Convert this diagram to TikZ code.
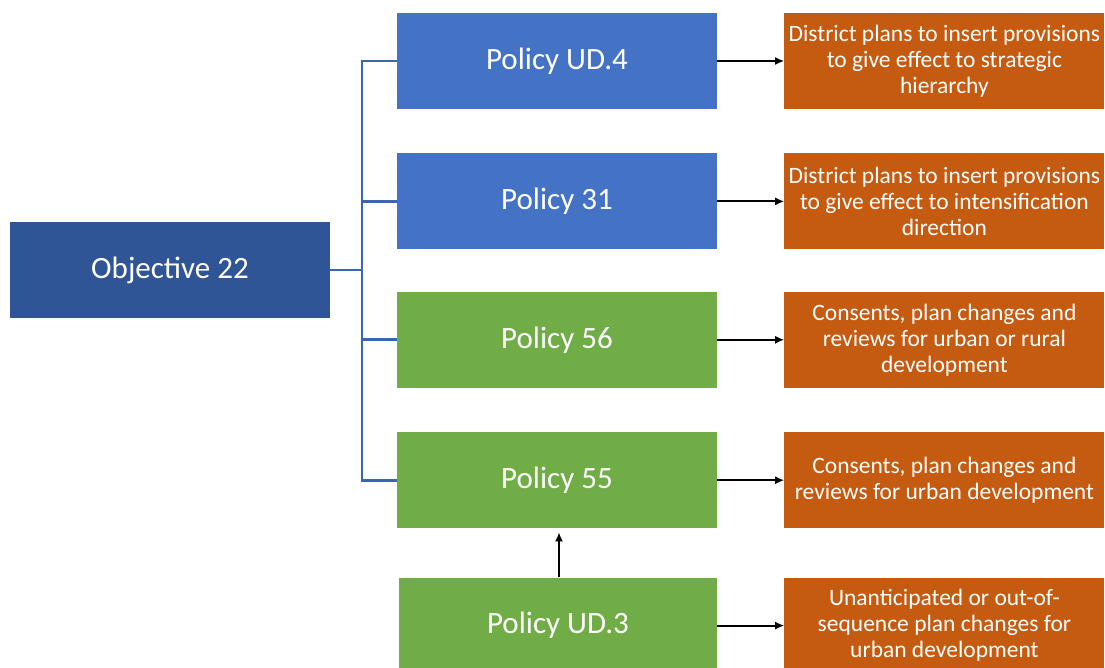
\documentclass[tikz,border=0pt]{standalone}
\usepackage{fontspec}
\setmainfont{Carlito}
\usetikzlibrary{arrows.meta,positioning}
\definecolor{objblue}{HTML}{2F5597}
\definecolor{polblue}{HTML}{4472C4}
\definecolor{polgreen}{HTML}{70AD47}
\definecolor{outorange}{HTML}{C55A11}
\definecolor{linkblue}{HTML}{3C64B1}
\tikzset{
    every picture/.style={
        x=1pt,y=-1pt,>={Latex[length=9pt,width=8pt]},node distance=44pt and 67pt,
        box/.style={minimum width=320pt,minimum height=96pt,inner sep=0pt,
            align=center,text=white,font=\fontsize{31}{36}\selectfont},
        outcome/.style={box,fill=outorange,font=\fontsize{23.5}{26}\selectfont},
        link/.style={draw=linkblue,line width=2.8pt},
        flow/.style={->,line width=2pt}
    }
}
\begin{document}
\begin{tikzpicture}
    \useasboundingbox (0,0) rectangle (1105,668);
    \node[box,fill=objblue]    (obj) at (170,270) {Objective 22};
    \node[box,fill=polblue]    (ud4) at (557,61)  {Policy UD.4};
    \node[box,fill=polblue]    (p31) [below=of ud4] {Policy 31};
    \node[box,fill=polgreen]   (p56) [below=42pt of p31] {Policy 56};
    \node[box,fill=polgreen]   (p55) [below=of p56] {Policy 55};
    \node[box,fill=polgreen,minimum width=318pt] (ud3) [below=49pt of p55,xshift=1pt] {Policy UD.3};
    \node[outcome] (o4)  [right=of ud4] {District plans to insert provisions\\to give effect to strategic\\hierarchy};
    \node[outcome] (o31) [right=of p31] {District plans to insert provisions\\to give effect to intensification\\direction};
    \node[outcome] (o56) [right=of p56] {Consents, plan changes and\\reviews for urban or rural\\development};
    \node[outcome] (o55) [right=of p55] {Consents, plan changes and\\reviews for urban development};
    \node[outcome] (o3)  [right=67pt of ud3] {Unanticipated or out-of-\\sequence plan changes for\\urban development};
    \coordinate (fork) at (362,270);
    % bracket from the objective to the policies
    \draw[link] (obj.east) -- (fork);
    \draw[link] (ud4.west) -| (fork) |- (p55.west);
    \draw[link] (fork |- p31.west) -- (p31.west);
    \draw[link] (fork |- p56.west) -- (p56.west);
    % policies to their outcomes
    \path[flow] (ud4) edge (o4)
                (p31) edge (o31)
                (p56) edge (o56)
                (p55) edge (o55)
                (ud3) edge (o3);
    \draw[->,line width=1.6pt,shorten >=4pt] (ud3.north -| 559,0) -- (p55.south -| 559,0);
\end{tikzpicture}
\end{document}
